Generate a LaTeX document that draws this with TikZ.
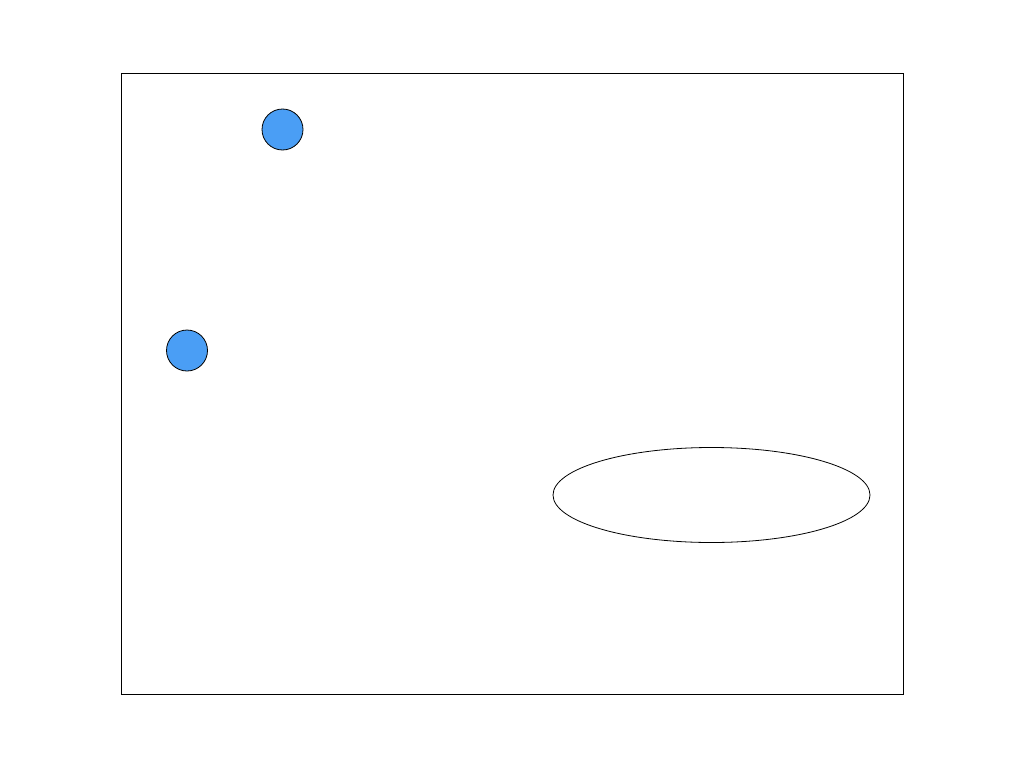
\documentclass[tikz,border=0pt]{standalone}
\usetikzlibrary{shapes.geometric}
\definecolor{dotblue}{HTML}{4A9EF5}
\tikzset{
  frame/.style={draw=black, line width=0.8pt},
  dot/.style={circle, draw=black, fill=dotblue, line width=0.8pt, minimum size=41pt, inner sep=0pt},
  oval/.style={ellipse, draw=black, line width=0.8pt, minimum width=317pt, minimum height=95pt, inner sep=0pt}
}
\begin{document}
\begin{tikzpicture}[x=1pt,y=-1pt]
\useasboundingbox (0,0) rectangle (1024,768);
\draw[frame] (121,73) rectangle (903,694);
\node[dot] (d1) at (282.5,129.5) {};
\node[dot] (d2) at (187,350.5) {};
\node[oval] (e1) at (711.5,495) {};
\end{tikzpicture}
\end{document}
